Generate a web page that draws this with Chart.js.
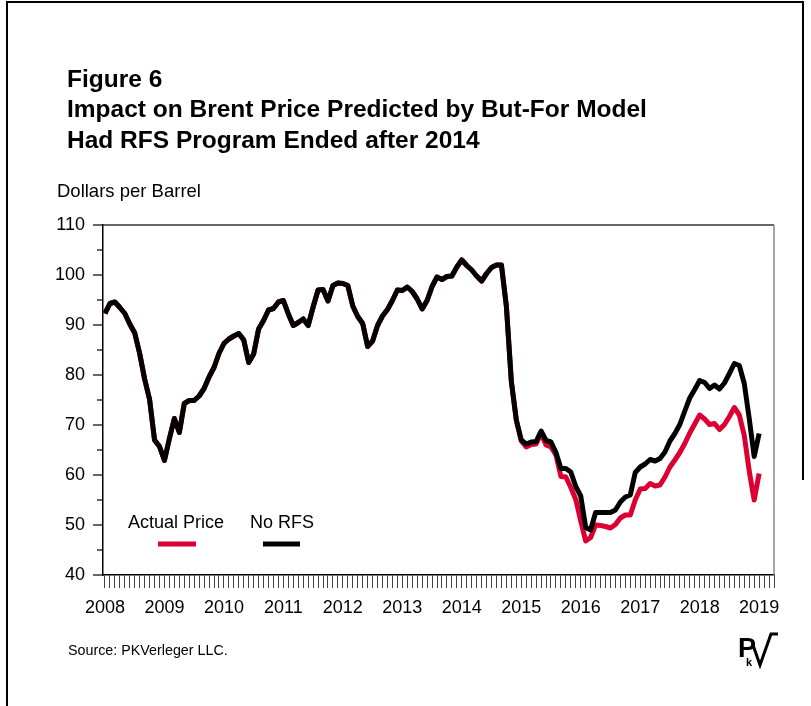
<!DOCTYPE html>
<html>
<head>
<meta charset="utf-8">
<title>Figure 6 - Brent Price</title>
<script src="https://cdn.jsdelivr.net/npm/chart.js@4.4.0/dist/chart.umd.min.js"></script>
<style>
  html, body { margin: 0; padding: 0; background: #fff; }
  #wrap { position: relative; width: 811px; height: 706px; }
</style>
</head>
<body>
<div id="wrap"><canvas id="brent-chart"></canvas></div>
<script>
// monthly, Jan 2008 .. Jan 2019
const yearLabels = ['2008', '2009', '2010', '2011', '2012', '2013', '2014', '2015', '2016', '2017', '2018', '2019'];
const seriesNames = ['Actual Price', 'No RFS'];
const lastMonthTick = 135; // axis runs to Apr 2019

const noRfs = [
  92.3, 94.3, 94.6, 93.5, 92.3, 90.2, 88.4, 84.3, 79.2, 75.1, 67.0, 65.7,
  62.9, 67.3, 71.3, 68.5, 74.3, 74.9, 74.9, 75.8, 77.3, 79.6, 81.5, 84.3,
  86.3, 87.2, 87.8, 88.3, 87.0, 82.5, 84.2, 89.2, 90.9, 93.0, 93.3, 94.6,
  94.9, 92.2, 89.9, 90.5, 91.2, 89.9, 93.6, 97.0, 97.1, 94.8, 97.9, 98.4,
  98.3, 97.9, 93.8, 91.7, 90.3, 85.7, 86.8, 89.9, 91.8, 93.1, 94.9, 97.0,
  96.9, 97.6, 96.7, 95.2, 93.2, 94.9, 97.7, 99.6, 99.1, 99.7, 99.8, 101.6,
  103.0, 101.9, 101.0, 99.8, 98.8, 100.3, 101.5, 102.0, 102.0, 93.7, 78.7, 71.0,
  67.0, 66.2, 66.6, 66.7, 68.8, 66.9, 66.6, 64.5, 61.3, 61.3, 60.6, 57.7,
  55.8, 49.5, 49.0, 52.5, 52.5, 52.5, 52.5, 53.0, 54.6, 55.6, 56.0, 60.5,
  61.6, 62.2, 63.1, 62.8, 63.3, 64.6, 66.8, 68.3, 70.1, 72.8, 75.4, 77.1,
  78.9, 78.5, 77.3, 78.0, 77.2, 78.4, 80.3, 82.3, 81.9, 78.3, 71.3, 63.7,
  68.3
];

const actualPrice = [
  92.3, 94.3, 94.6, 93.5, 92.3, 90.2, 88.4, 84.3, 79.2, 75.1, 67.0, 65.7,
  62.9, 67.3, 71.3, 68.5, 74.3, 74.9, 74.9, 75.8, 77.3, 79.6, 81.5, 84.3,
  86.3, 87.2, 87.8, 88.3, 87.0, 82.5, 84.2, 89.2, 90.9, 93.0, 93.3, 94.6,
  94.9, 92.2, 89.9, 90.5, 91.2, 89.9, 93.6, 97.0, 97.1, 94.8, 97.9, 98.4,
  98.3, 97.9, 93.8, 91.7, 90.3, 85.7, 86.8, 89.9, 91.8, 93.1, 94.9, 97.0,
  96.9, 97.6, 96.7, 95.2, 93.2, 94.9, 97.7, 99.6, 99.1, 99.7, 99.8, 101.6,
  103.0, 101.9, 101.0, 99.8, 98.8, 100.3, 101.5, 102.0, 102.0, 93.7, 78.7, 71.0,
  66.8, 65.6, 66.1, 66.2, 68.3, 66.0, 65.6, 64.0, 59.7, 59.6, 57.5, 55.1,
  50.8, 46.8, 47.5, 50.0, 49.9, 49.7, 49.4, 50.1, 51.4, 52.0, 52.0, 55.0,
  57.2, 57.3, 58.3, 57.8, 58.0, 59.6, 61.6, 63.0, 64.5, 66.3, 68.4, 70.2,
  72.0, 71.2, 70.1, 70.3, 69.1, 70.1, 71.7, 73.5, 72.0, 67.9, 60.8, 55.0,
  60.3
];

const FONT = "'Liberation Sans', Arial, sans-serif";
const RED = '#dc0032';

const toPoints = arr => arr.map((v, i) => ({ x: i, y: v }));

// page text, frame, legend and y ticks
const decor = {
  id: 'decor',
  afterDraw(chart) {
    const ctx = chart.ctx;
    const area = chart.chartArea;
    const y = chart.scales.y;
    ctx.save();

    // page frame
    ctx.strokeStyle = '#000';
    ctx.lineWidth = 2;
    ctx.beginPath();
    ctx.moveTo(7, 706);
    ctx.lineTo(7, 2);
    ctx.lineTo(803, 2);
    ctx.lineTo(803, 480);
    ctx.stroke();

    // top + right edge of plot box
    ctx.lineWidth = 1.5;
    ctx.strokeStyle = '#333';
    ctx.beginPath();
    ctx.moveTo(area.left, area.top);
    ctx.lineTo(area.right, area.top);
    ctx.stroke();
    ctx.strokeStyle = '#888';
    ctx.beginPath();
    ctx.moveTo(area.right, area.top);
    ctx.lineTo(area.right, area.bottom);
    ctx.stroke();

    // y ticks, long on the tens
    ctx.strokeStyle = '#000';
    ctx.lineWidth = 1.2;
    y.ticks.forEach(t => {
      const py = y.getPixelForValue(t.value);
      const len = t.value % 10 === 0 ? 10 : 6;
      ctx.beginPath();
      ctx.moveTo(area.left - len, py);
      ctx.lineTo(area.left, py);
      ctx.stroke();
    });

    // titles
    ctx.fillStyle = '#000';
    ctx.textBaseline = 'alphabetic';
    ctx.textAlign = 'left';
    ctx.font = 'bold 24.5px ' + FONT;
    ctx.fillText('Figure 6', 67, 87);
    ctx.fillText('Impact on Brent Price Predicted by But-For Model', 67, 117);
    ctx.fillText('Had RFS Program Ended after 2014', 67, 148);

    ctx.font = '18.5px ' + FONT;
    ctx.fillText('Dollars per Barrel', 57, 197);

    // legend
    ctx.font = '18px ' + FONT;
    ctx.fillText(seriesNames[0], 128, 528);
    ctx.fillText(seriesNames[1], 250, 528);
    ctx.lineWidth = 5;
    ctx.strokeStyle = RED;
    ctx.beginPath();
    ctx.moveTo(158, 544);
    ctx.lineTo(196, 544);
    ctx.stroke();
    ctx.strokeStyle = '#000';
    ctx.beginPath();
    ctx.moveTo(263, 544);
    ctx.lineTo(300, 544);
    ctx.stroke();

    // source
    ctx.font = '14.3px ' + FONT;
    ctx.fillText('Source: PKVerleger LLC.', 68, 655);

    // logo
    ctx.font = 'bold 27px ' + FONT;
    ctx.fillText('P', 738, 657);
    ctx.font = 'bold 11px ' + FONT;
    ctx.fillText('k', 746, 666);
    ctx.lineWidth = 3;
    ctx.beginPath();
    ctx.moveTo(753, 645);
    ctx.lineTo(760, 665);
    ctx.lineTo(771, 634);
    ctx.lineTo(778, 634);
    ctx.stroke();

    ctx.restore();
  }
};

const config = {
  type: 'line',
  data: {
    datasets: [
      {
        label: seriesNames[1],
        data: toPoints(noRfs),
        borderColor: '#000',
        borderWidth: 5,
        borderJoinStyle: 'round',
        pointRadius: 0,
        order: 1
      },
      {
        label: seriesNames[0],
        data: toPoints(actualPrice),
        borderColor: RED,
        borderWidth: 5,
        borderJoinStyle: 'round',
        pointRadius: 0,
        order: 2
      }
    ]
  },
  options: {
    responsive: true,
    maintainAspectRatio: false,
    animation: false,
    layout: { padding: { top: 225, right: 37, left: 0, bottom: 0 } },
    plugins: {
      legend: { display: false },
      tooltip: { enabled: false },
      title: { display: false }
    },
    scales: {
      x: {
        type: 'linear',
        min: -0.4,
        max: lastMonthTick,
        afterBuildTicks: s => {
          const ticks = [];
          for (let m = 0; m <= lastMonthTick; m++) ticks.push({ value: m });
          s.ticks = ticks;
        },
        afterFit: s => { s.height = 131; },
        ticks: {
          autoSkip: false,
          maxRotation: 0,
          minRotation: 0,
          padding: 9,
          color: '#000',
          font: { family: FONT, size: 18 },
          callback: v => (v % 12 === 0 ? yearLabels[v / 12] : '')
        },
        grid: { drawOnChartArea: false, drawTicks: true, tickLength: 13, tickColor: '#444', tickWidth: 1 },
        border: { color: '#000', width: 1.5 }
      },
      y: {
        min: 40,
        max: 110,
        afterFit: s => { s.width = 103; },
        ticks: {
          stepSize: 5,
          autoSkip: false,
          padding: 18,
          color: '#000',
          font: { family: FONT, size: 18 },
          callback: v => (v % 10 === 0 ? v : '')
        },
        grid: { display: false, drawTicks: false },
        border: { color: '#000', width: 1.5 }
      }
    }
  },
  plugins: [decor]
};

new Chart(document.getElementById('brent-chart').getContext('2d'), config);
</script>
</body>
</html>
